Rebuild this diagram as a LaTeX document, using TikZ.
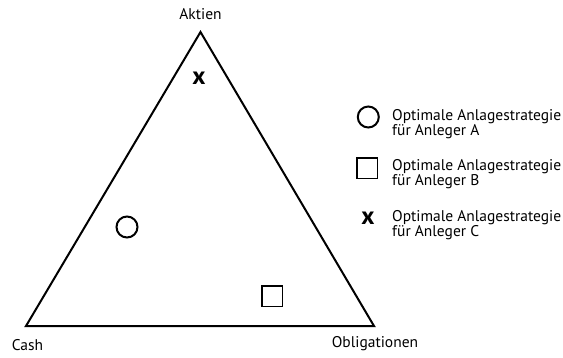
\documentclass[tikz,border=0pt]{standalone}
\usepackage{fontspec}
\setmainfont{PT Sans}
\begin{document}
\begin{tikzpicture}[x=1pt,y=-1pt,
  lbl/.style={font=\fontsize{15.5}{15}\selectfont, inner sep=0pt, anchor=base},
  legtxt/.style={font=\fontsize{15.5}{15}\selectfont, inner sep=0pt, anchor=base west, align=left},
  circmark/.style={circle, draw, line width=2pt, minimum size=21pt, inner sep=0pt},
  sqmark/.style={rectangle, draw, line width=1.5pt, minimum size=20.5pt, inner sep=0pt},
  xmark/.style={font=\bfseries\fontsize{25}{25}\selectfont, inner sep=0pt}]
\useasboundingbox (0,0) rectangle (563,357);
\coordinate (A) at (200.5,32);
\coordinate (C) at (26,326);
\coordinate (O) at (374,326);
\draw[line width=2pt, line join=miter] (A) -- (C) -- (O) -- cycle;
\node[lbl] (lA) at (200.5,19) {Aktien};
\node[lbl] (lC) at (27.5,350) {Cash};
\node[lbl] (lO) at (375,347) {Obligationen};
\node[xmark] (x1) at (199,78.5) {x};
\node[circmark] (c1) at (127,227) {};
\node[sqmark] (s1) at (272,296) {};
\node[circmark] (lc) at (368.3,117) {};
\node[legtxt] (tc) at (392,135.7) {Optimale Anlagestrategie\\für Anleger A};
\node[sqmark] (ls) at (367,168) {};
\node[legtxt] (ts) at (392,185.7) {Optimale Anlagestrategie\\für Anleger B};
\node[xmark] (lx) at (368,218) {x};
\node[legtxt] (tx) at (392,236.7) {Optimale Anlagestrategie\\für Anleger C};
\end{tikzpicture}
\end{document}
